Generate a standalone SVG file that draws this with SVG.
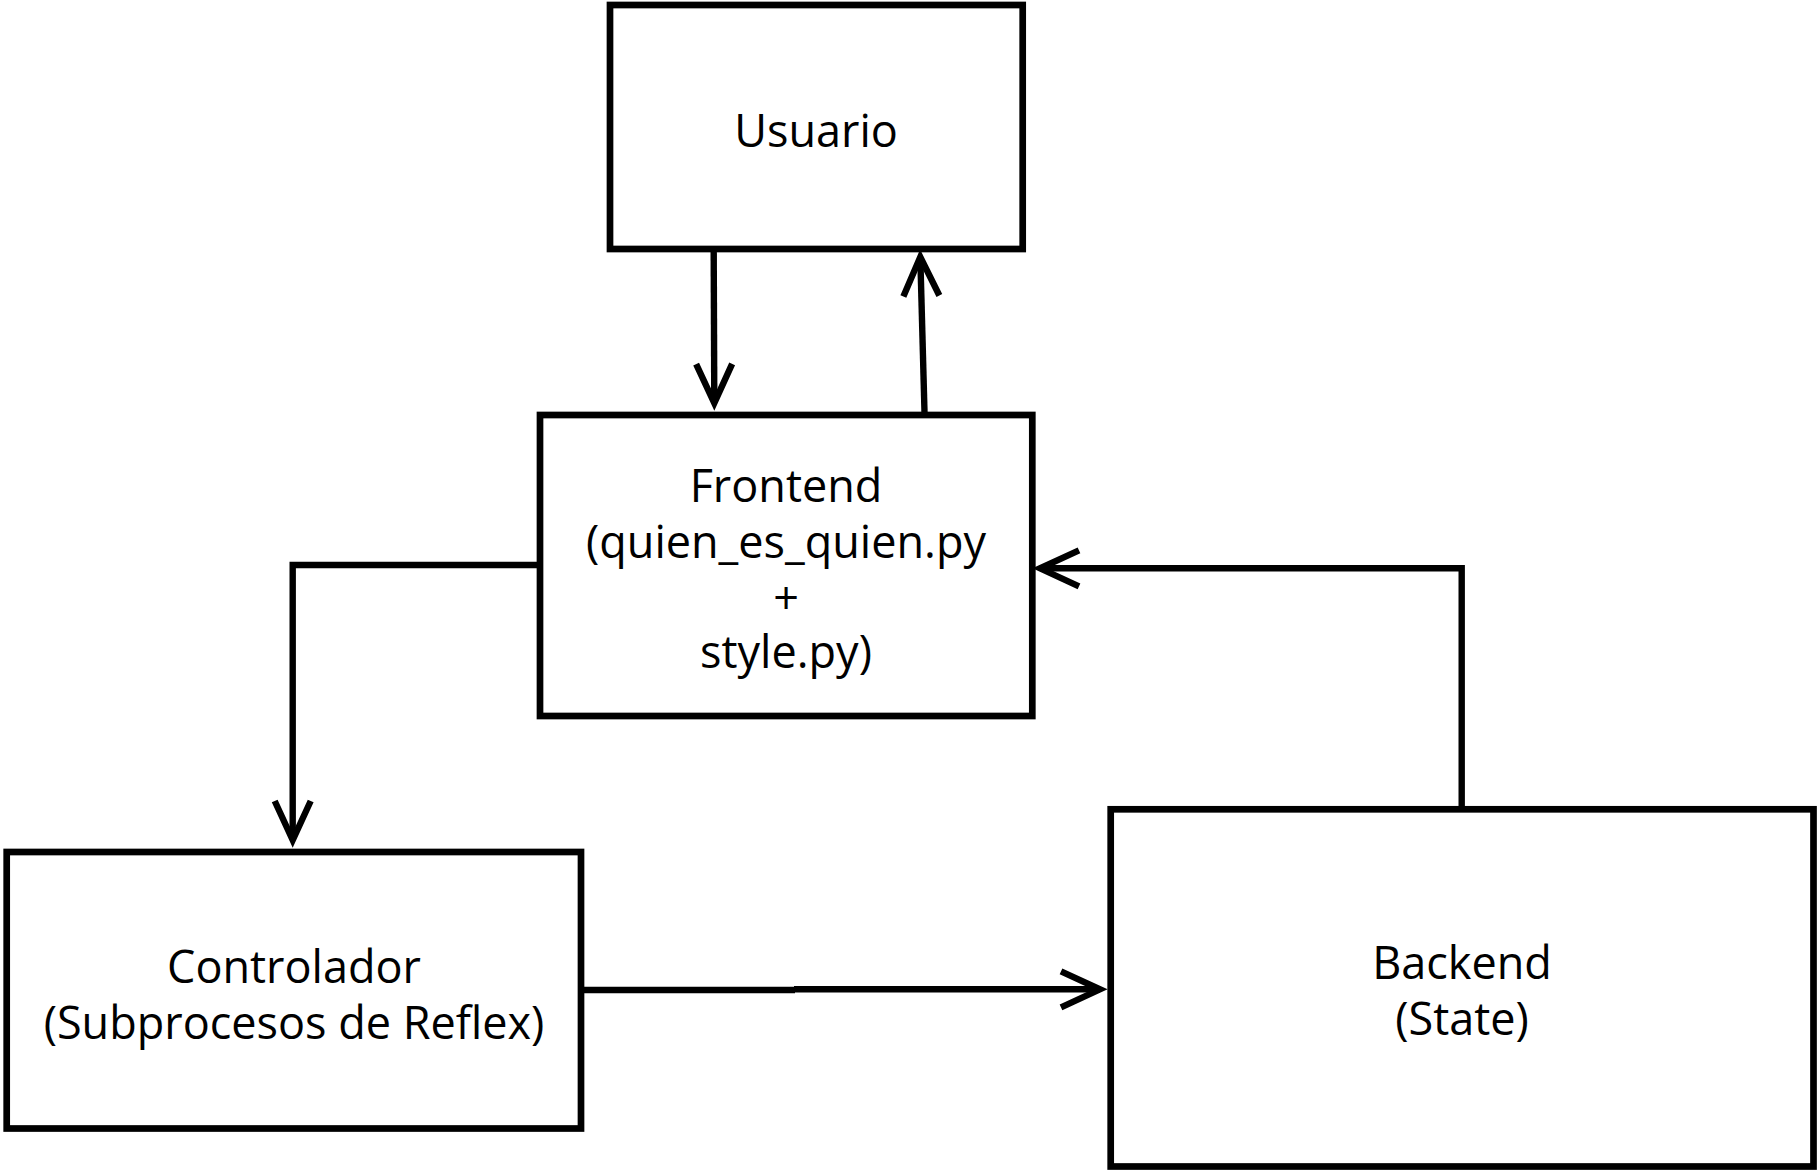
<svg xmlns="http://www.w3.org/2000/svg" width="1818" height="1170" viewBox="0 0 1818 1170">
  <style>
    .box { fill: #ffffff; stroke: #000000; stroke-width: 6.7; }
    .conn { fill: none; stroke: #000000; stroke-width: 6.4; stroke-linejoin: miter; }
    .label { font-family: "Open Sans", "Noto Sans", "Liberation Sans", sans-serif; font-size: 45px; fill: #000000; text-anchor: middle; }
  </style>
  <defs>
    <marker id="arrow" markerUnits="userSpaceOnUse" viewBox="-46 -24 58 48" markerWidth="58" markerHeight="48" refX="0" refY="0" orient="auto" overflow="visible">
      <path d="M-39,-18 L0,0 L-39,18" fill="none" stroke="#000000" stroke-width="6.4" stroke-linejoin="miter"/>
    </marker>
  </defs>
  <rect x="0" y="0" width="1818" height="1170" fill="#ffffff"/>

  <g id="connectors">
    <path id="c-usuario-frontend" class="conn" d="M713.7,252 L714.3,403" marker-end="url(#arrow)"/>
    <path id="c-frontend-usuario" class="conn" d="M924.5,412 L920.3,257" marker-end="url(#arrow)"/>
    <path id="c-frontend-controlador" class="conn" d="M537,565 L292.7,565 L292.7,840" marker-end="url(#arrow)"/>
    <path id="c-controlador-backend-a" class="conn" d="M584,990 L795,990"/>
    <path id="c-controlador-backend" class="conn" d="M794,989.3 L1100,989.3" marker-end="url(#arrow)"/>
    <path id="c-backend-frontend" class="conn" d="M1461.7,806 L1461.7,568.3 L1040,568.3" marker-end="url(#arrow)"/>
  </g>

  <g id="node-usuario">
    <rect class="box" x="610" y="5" width="412.7" height="244"/>
    <text class="label" x="816" y="147">Usuario</text>
  </g>

  <g id="node-frontend">
    <rect class="box" x="540" y="415" width="492.3" height="301"/>
    <text class="label" x="786" y="502">Frontend</text>
    <text class="label" x="786" y="558">(quien_es_quien.py</text>
    <text class="label" x="786" y="614">+</text>
    <text class="label" x="786" y="668">style.py)</text>
  </g>

  <g id="node-controlador">
    <rect class="box" x="6.7" y="852" width="574.3" height="276.5"/>
    <text class="label" x="294" y="983">Controlador</text>
    <text class="label" x="294" y="1039">(Subprocesos de Reflex)</text>
  </g>

  <g id="node-backend">
    <rect class="box" x="1110.7" y="809.3" width="702.8" height="357.2"/>
    <text class="label" x="1462" y="979">Backend</text>
    <text class="label" x="1462" y="1035">(State)</text>
  </g>
</svg>
